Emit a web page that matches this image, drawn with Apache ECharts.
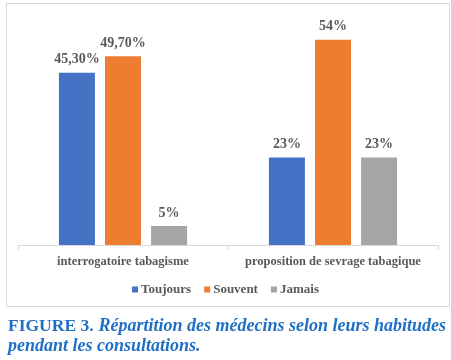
<!DOCTYPE html>
<html>
<head>
<meta charset="utf-8">
<script src="https://cdn.jsdelivr.net/npm/echarts@6/dist/echarts.min.js"></script>
<style>
html,body{margin:0;padding:0;background:#fff;}
#c{width:451px;height:360px;}
</style>
</head>
<body>
<div id="c"></div>
<script>
const categories = ['interrogatoire tabagisme', 'proposition de sevrage tabagique'];
const seriesNames = ['Toujours', 'Souvent', 'Jamais'];
const toujours = [45.3, 23];
const souvent = [49.7, 54];
const jamais = [5, 23];
const valueLabels = [['45,30%', '23%'], ['49,70%', '54%'], ['5%', '23%']];
const colors = ['#4472c4', '#ed7d31', '#a5a5a5'];

const chart = echarts.init(document.getElementById('c'), null, {renderer: 'canvas'});
const serif = 'Liberation Serif';
const dataSets = [toujours, souvent, jamais];

const series = seriesNames.map((name, i) => ({
  name: name,
  type: 'bar',
  data: dataSets[i],
  barWidth: 36,
  barGap: '28%',
  itemStyle: {color: colors[i]},
  label: {
    show: true,
    position: 'top',
    distance: 6,
    fontFamily: serif,
    fontWeight: 'bold',
    fontSize: 14,
    color: '#595959',
    formatter: p => valueLabels[i][p.dataIndex]
  }
}));

chart.setOption({
  animation: false,
  backgroundColor: '#fff',
  graphic: [{
    type: 'rect',
    shape: {x: 6.5, y: 3.5, width: 443, height: 303},
    style: {fill: 'none', stroke: '#d9d9d9', lineWidth: 1},
    silent: true
  }],
  title: {
    left: 8,
    top: 316,
    padding: 0,
    text: '{a|FIGURE 3.} {b|Répartition des médecins selon leurs habitudes}\n{b|pendant les consultations.}',
    textStyle: {
      rich: {
        a: {fontFamily: serif, fontSize: 17.5, color: '#1f6fc5', lineHeight: 20},
        b: {fontFamily: serif, fontStyle: 'italic', fontSize: 18, color: '#1f6fc5', lineHeight: 20}
      }
    }
  },
  legend: {
    data: seriesNames,
    left: 'center',
    top: 278,
    icon: 'rect',
    itemWidth: 6,
    itemHeight: 6,
    itemGap: 13,
    textStyle: {fontFamily: serif, fontWeight: 'bold', fontSize: 13, color: '#595959', padding: [0, 0, 0, -2]}
  },
  grid: {left: 18, right: 13, top: 17, height: 228, containLabel: false},
  xAxis: {
    type: 'category',
    data: categories,
    axisLine: {lineStyle: {color: '#d9d9d9'}},
    axisTick: {show: true, alignWithLabel: false, length: 5, lineStyle: {color: '#d9d9d9'}},
    axisLabel: {interval: 0, fontFamily: serif, fontWeight: 'bold', fontSize: 12.5, color: '#595959', margin: 10}
  },
  yAxis: {
    type: 'value',
    min: 0,
    max: 60,
    show: false,
    splitLine: {show: false}
  },
  series: series
});
</script>
</body>
</html>
